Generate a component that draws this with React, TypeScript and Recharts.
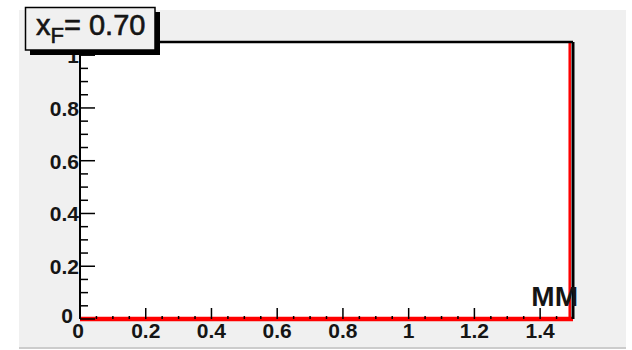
import React from 'react';
import { LineChart, Line, XAxis, YAxis, CartesianGrid } from 'recharts';

// Tick positions (major + minor)
const xTicks = [0, 0.05, 0.1, 0.15, 0.2, 0.25, 0.3, 0.35, 0.4, 0.45, 0.5, 0.55, 0.6, 0.65, 0.7, 0.75, 0.8, 0.85, 0.9, 0.95, 1, 1.05, 1.1, 1.15, 1.2, 1.25, 1.3, 1.35, 1.4, 1.45, 1.5];
const xMajorTicks = [0, 0.2, 0.4, 0.6, 0.8, 1, 1.2, 1.4];
const xTickLabels = ['0', '0.2', '0.4', '0.6', '0.8', '1', '1.2', '1.4'];
const yTicks = [0, 0.05, 0.1, 0.15, 0.2, 0.25, 0.3, 0.35, 0.4, 0.45, 0.5, 0.55, 0.6, 0.65, 0.7, 0.75, 0.8, 0.85, 0.9, 0.95, 1];
const yMajorTicks = [0, 0.2, 0.4, 0.6, 0.8, 1];
const yTickLabels = ['0', '0.2', '0.4', '0.6', '0.8', '1'];

// Series: the histogram line (flat at zero, rising at the right edge)
const baseX = [0, 1.5];
const baseY = [0, 0];
const edgeX = [1.49, 1.49];
const edgeY = [0, 1.05];

const xDomain = [0, 1.5];
const yDomain = [0, 1.05];

const titleText = 'x';
const titleSub = 'F';
const titleRest = '= 0.70';
const cornerLabel = 'MM';

const baseData = baseX.map((x, i) => ({ x, y: baseY[i] }));
const edgeData = edgeX.map((x, i) => ({ x, y: edgeY[i] }));

const FONT = "'Liberation Sans', Arial, Helvetica, sans-serif";

const near = (a: number, b: number) => Math.abs(a - b) < 1e-6;

const XTick = (props: any) => {
  const { x, y, payload } = props;
  const v = payload.value;
  const idx = xMajorTicks.findIndex((m) => near(m, v));
  const major = idx >= 0;
  return (
    <g>
      <line x1={x} x2={x} y1={y} y2={y - (major ? 11 : 3)} stroke="#000" strokeWidth={1.5} />
      {major && (
        <text x={v === 0 ? x - 2 : x} y={y + 19} textAnchor="middle" fontFamily={FONT} fontWeight="bold" fontSize={21} fill="#151515">
          {xTickLabels[idx]}
        </text>
      )}
    </g>
  );
};

const YTick = (props: any) => {
  const { x, y, payload } = props;
  const v = payload.value;
  const idx = yMajorTicks.findIndex((m) => near(m, v));
  const major = idx >= 0;
  return (
    <g>
      <line x1={x} x2={x + (major ? 15 : 8)} y1={y} y2={y} stroke="#000" strokeWidth={1.5} />
      {major && (
        <text x={v === 0 ? x - 7 : x - 1} y={y + (v === 0 ? 4 : 8)} textAnchor="end" fontFamily={FONT} fontWeight="bold" fontSize={21} fill="#151515">
          {yTickLabels[idx]}
        </text>
      )}
    </g>
  );
};

export default function App() {
  return (
    <div style={{ position: 'absolute', left: 0, top: 0, width: 632, height: 350, background: '#fff', overflow: 'hidden' }}>
      <div style={{ position: 'absolute', left: 19, top: 10, width: 607, height: 337, background: '#f0f0f0', borderBottom: '2px solid #cccccc' }} />
      <div style={{ position: 'absolute', left: 0, top: 0 }}>
        <LineChart width={632} height={350} margin={{ top: 41, left: 79, right: 58, bottom: 30 }}>
          <CartesianGrid horizontal={false} vertical={false} fill="#ffffff" />
          <XAxis
            dataKey="x"
            type="number"
            domain={xDomain}
            ticks={xTicks}
            interval={0}
            height={1}
            tickSize={0}
            tickMargin={0}
            tickLine={false}
            axisLine={false}
            tick={<XTick />}
          />
          <XAxis
            xAxisId="top"
            orientation="top"
            dataKey="x"
            type="number"
            domain={xDomain}
            height={1}
            tick={false}
            tickLine={false}
            axisLine={{ stroke: '#000', strokeWidth: 2.5 }}
          />
          <YAxis
            type="number"
            domain={yDomain}
            ticks={yTicks}
            interval={0}
            width={1}
            tickSize={0}
            tickMargin={0}
            tickLine={false}
            axisLine={{ stroke: '#000', strokeWidth: 2 }}
            tick={<YTick />}
          />
          <Line data={edgeData} dataKey="y" type="linear" stroke="#ff0000" strokeWidth={2.5} dot={false} activeDot={false} isAnimationActive={false} />
          <Line data={baseData} dataKey="y" type="linear" stroke="#ff0000" strokeWidth={4.5} dot={false} activeDot={false} isAnimationActive={false} />
          <YAxis
            yAxisId="right"
            orientation="right"
            type="number"
            domain={yDomain}
            width={1}
            tick={false}
            tickLine={false}
            axisLine={{ stroke: '#000', strokeWidth: 3 }}
          />
        </LineChart>
      </div>
      <svg width={632} height={350} style={{ position: 'absolute', left: 0, top: 0, pointerEvents: 'none' }}>
        <text x={578} y={306} textAnchor="end" fontFamily={FONT} fontWeight="bold" fontSize={28} fill="#151515">
          {cornerLabel}
        </text>
        <rect x={30} y={12} width={130} height={43} fill="#000" />
        <rect x={25.5} y={7.5} width={129.5} height={42.5} fill="#f0f0f0" stroke="#000" strokeWidth={1.5} />
        <text x={36} y={35} fontFamily={FONT} fontSize={29} fill="#151515" stroke="#151515" strokeWidth={0.6}>
          {titleText}
          <tspan fontSize={22} dy={8}>{titleSub}</tspan>
          <tspan fontSize={29} dy={-8}>{titleRest}</tspan>
        </text>
      </svg>
    </div>
  );
}
